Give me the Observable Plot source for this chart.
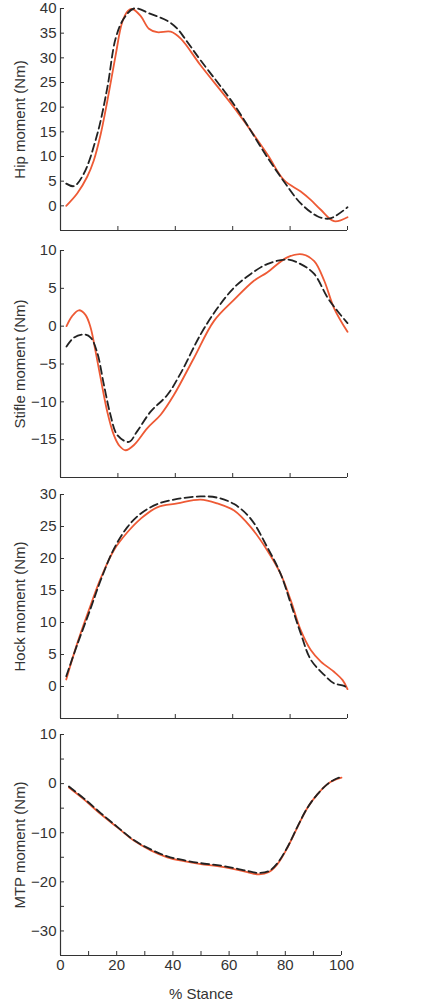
<!DOCTYPE html>
<html>
<head>
<meta charset="utf-8">
<script src="https://cdn.jsdelivr.net/npm/d3@7"></script>
<script src="https://cdn.jsdelivr.net/npm/@observablehq/plot@0.6"></script>
<style>
  html, body { margin: 0; padding: 0; background: #fff; }
  #chart { width: 426px; }
  #chart svg { display: block; }
</style>
</head>
<body>
<div id="chart"></div>
<script>
// ---- Data ----
const hipSolidX = [2, 5.8, 9.3, 11.6, 14, 16.3, 19.2, 21.5, 23.5, 25, 27.9, 30.8, 33.7, 38.4, 41.9, 48.8, 60.5, 72, 77.9, 83.7, 87.2, 90.7, 95.3, 100];
const hipSolid  = [0, 2.5, 5.9, 9.2, 14.5, 21.2, 30.5, 37.2, 39.5, 39.9, 38.5, 35.9, 35.2, 35.3, 33.9, 28.5, 19.9, 10.5, 5.2, 2.9, 1.2, -0.8, -3.1, -2.3];
const hipDashX  = [2, 4.7, 8.1, 12.8, 16.3, 19.2, 22, 25.6, 31.4, 37.2, 40.7, 44.2, 48.8, 60.5, 72, 77.9, 83.7, 89.5, 93.6, 96.5, 100];
const hipDash   = [4.5, 4.0, 6.5, 14.5, 23.9, 33.9, 37.9, 40, 38.9, 37.5, 35.9, 33.2, 29.5, 20.5, 9.9, 4.9, 0.5, -2.1, -2.6, -1.8, -0.3];

const stifleSolidX = [2.1, 4, 6.4, 8.7, 10.5, 12.2, 14, 16.3, 18.6, 20.5, 22.7, 25.6, 30.2, 34.9, 39.5, 46.5, 53.5, 60.5, 67.4, 72, 79, 84.3, 88.4, 91.9, 95.3, 100];
const stifleSolid  = [0, 1.3, 2.1, 1.5, -0.2, -3.3, -6.9, -11.3, -14.4, -15.8, -16.4, -15.7, -13.5, -11.7, -9.1, -4.2, 0.7, 3.5, 6.0, 7.1, 9.1, 9.5, 8.6, 6.0, 2.4, -0.75];
const stifleDashX  = [2.1, 4.7, 8.1, 10.5, 12.8, 15.1, 17.4, 19.8, 23.8, 26.7, 31.4, 37.2, 41.9, 48.8, 54.7, 60.5, 66.3, 72, 79, 83.7, 88.4, 93, 96.5, 100];
const stifleDash   = [-2.7, -1.5, -1.1, -1.5, -3.5, -7.7, -11.7, -14.4, -15.3, -13.9, -11.3, -9.1, -6.2, -1.1, 2.4, 5.1, 6.9, 8.2, 8.8, 8.2, 6.9, 3.8, 2.0, 0.4];

const hockSolidX = [2, 5.8, 10.5, 14, 18.6, 23.3, 27.9, 33.7, 40.7, 48.8, 54.7, 60.5, 66.3, 72, 76.7, 80.2, 83.7, 87.2, 90.7, 95.3, 98.3, 100];
const hockSolid  = [1.1, 6.7, 12.7, 16.9, 21.3, 24.1, 26.2, 28.0, 28.6, 29.2, 28.6, 27.5, 24.9, 21.3, 17.6, 13.5, 8.8, 5.7, 3.9, 2.3, 1.0, -0.4];
const hockDashX  = [2, 5.8, 10.5, 14, 18.6, 23.3, 27.9, 33.7, 40.7, 48.8, 54.7, 60.5, 66.3, 72, 76.7, 80.2, 83.7, 87.2, 91.9, 95.3, 98.8, 100];
const hockDash   = [1.6, 6.5, 12.2, 16.6, 21.5, 24.9, 27.0, 28.5, 29.3, 29.7, 29.5, 28.5, 26.2, 21.8, 17.6, 13.0, 8.3, 4.2, 1.8, 0.5, 0.1, -0.3];

const mtpX     = [3, 8.3, 14.3, 20.2, 26.1, 32.1, 38, 43.9, 49.9, 55.8, 61.8, 66.5, 70.7, 74.2, 77.2, 80.8, 84.3, 87.9, 91.4, 95, 97.4, 100];
const mtpSolid = [-0.8, -3.2, -6.2, -8.9, -11.6, -13.6, -15.0, -15.8, -16.4, -16.8, -17.4, -18.0, -18.5, -18.0, -16.4, -13.0, -8.9, -4.9, -2.2, -0.1, 0.7, 1.2];
const mtpDash  = [-0.6, -3.0, -6.0, -8.8, -11.5, -13.4, -14.8, -15.6, -16.2, -16.6, -17.2, -17.8, -18.2, -17.8, -16.2, -12.9, -8.8, -4.9, -2.2, -0.1, 0.8, 1.4];

const xTicksMajor = [0, 20, 40, 60, 80, 100];
const xTicksMinor = [10, 30, 50, 70, 90];
const hipTicks    = [0, 5, 10, 15, 20, 25, 30, 35, 40];
const stifleTicks = [-15, -10, -5, 0, 5, 10];
const hockTicks   = [0, 5, 10, 15, 20, 25, 30];
const mtpTicks    = [-30, -20, -10, 0, 10];
const mtpMinor    = [-25, -15, -5, 5];

const labels = ["Hip moment (Nm)", "Stifle moment (Nm)", "Hock moment (Nm)", "MTP moment (Nm)"];
const xLabel = "% Stance";

// ---- Style ----
const ORANGE = "#ee5a35";
const DARK = "#222";
const AXIS = "#333";

const zip = (xs, ys) => xs.map((x, i) => ({x, y: ys[i]}));

function panel({solid, dash, yDomain, yTicks, yMinor = [], label, height, marginTop, marginBottom, marginRight, bottom = false}) {
  const marks = [
    Plot.ruleX([0], {stroke: AXIS, strokeWidth: 1.2}),
    Plot.ruleY([yDomain[0]], {stroke: AXIS, strokeWidth: 1.2}),
    Plot.axisY(yTicks, {tickSize: -4, tickPadding: 8, label, labelAnchor: "center", labelArrow: "none", labelOffset: 46, stroke: AXIS, fill: AXIS}),
    Plot.line(solid, {x: "x", y: "y", stroke: ORANGE, strokeWidth: 1.8, curve: "catmull-rom"}),
    Plot.line(dash, {x: "x", y: "y", stroke: DARK, strokeWidth: 1.8, strokeDasharray: "8,4", curve: "catmull-rom"})
  ];
  if (yMinor.length) marks.push(Plot.axisY(yMinor, {tickSize: -4, tickFormat: () => "", label: null, stroke: AXIS}));
  if (bottom) {
    marks.push(Plot.axisX(xTicksMajor, {tickSize: -4, tickPadding: 8, label: xLabel, labelAnchor: "center", labelArrow: "none", labelOffset: 43, stroke: AXIS, fill: AXIS}));
    marks.push(Plot.axisX(xTicksMinor, {tickSize: -4, tickFormat: () => "", label: null, stroke: AXIS}));
  } else {
    marks.push(Plot.axisX(xTicksMajor, {tickSize: -4, tickFormat: () => "", label: null, stroke: AXIS}));
  }
  return Plot.plot({
    width: 426,
    height,
    marginLeft: 60,
    marginRight,
    marginTop,
    marginBottom,
    x: {domain: [0, 100]},
    y: {domain: yDomain},
    style: {fontFamily: "'Liberation Sans', Arial, sans-serif", fontSize: "15px", color: AXIS, background: "transparent", overflow: "visible"},
    marks
  });
}

const chart = document.getElementById("chart");
chart.append(panel({
  solid: zip(hipSolidX, hipSolid), dash: zip(hipDashX, hipDash),
  yDomain: [-5, 40], yTicks: hipTicks, label: labels[0],
  height: 240, marginTop: 8, marginBottom: 10, marginRight: 79
}));
chart.append(panel({
  solid: zip(stifleSolidX, stifleSolid), dash: zip(stifleDashX, stifleDash),
  yDomain: [-20, 10], yTicks: stifleTicks, label: labels[1],
  height: 240, marginTop: 10, marginBottom: 3, marginRight: 79
}));
chart.append(panel({
  solid: zip(hockSolidX, hockSolid), dash: zip(hockDashX, hockDash),
  yDomain: [-5, 30], yTicks: hockTicks, label: labels[2],
  height: 240, marginTop: 14, marginBottom: 2, marginRight: 79
}));
chart.append(panel({
  solid: zip(mtpX, mtpSolid), dash: zip(mtpX, mtpDash),
  yDomain: [-35, 10], yTicks: mtpTicks, yMinor: mtpMinor, label: labels[3],
  height: 280, marginTop: 14, marginBottom: 45, marginRight: 85, bottom: true
}));
</script>
</body>
</html>
